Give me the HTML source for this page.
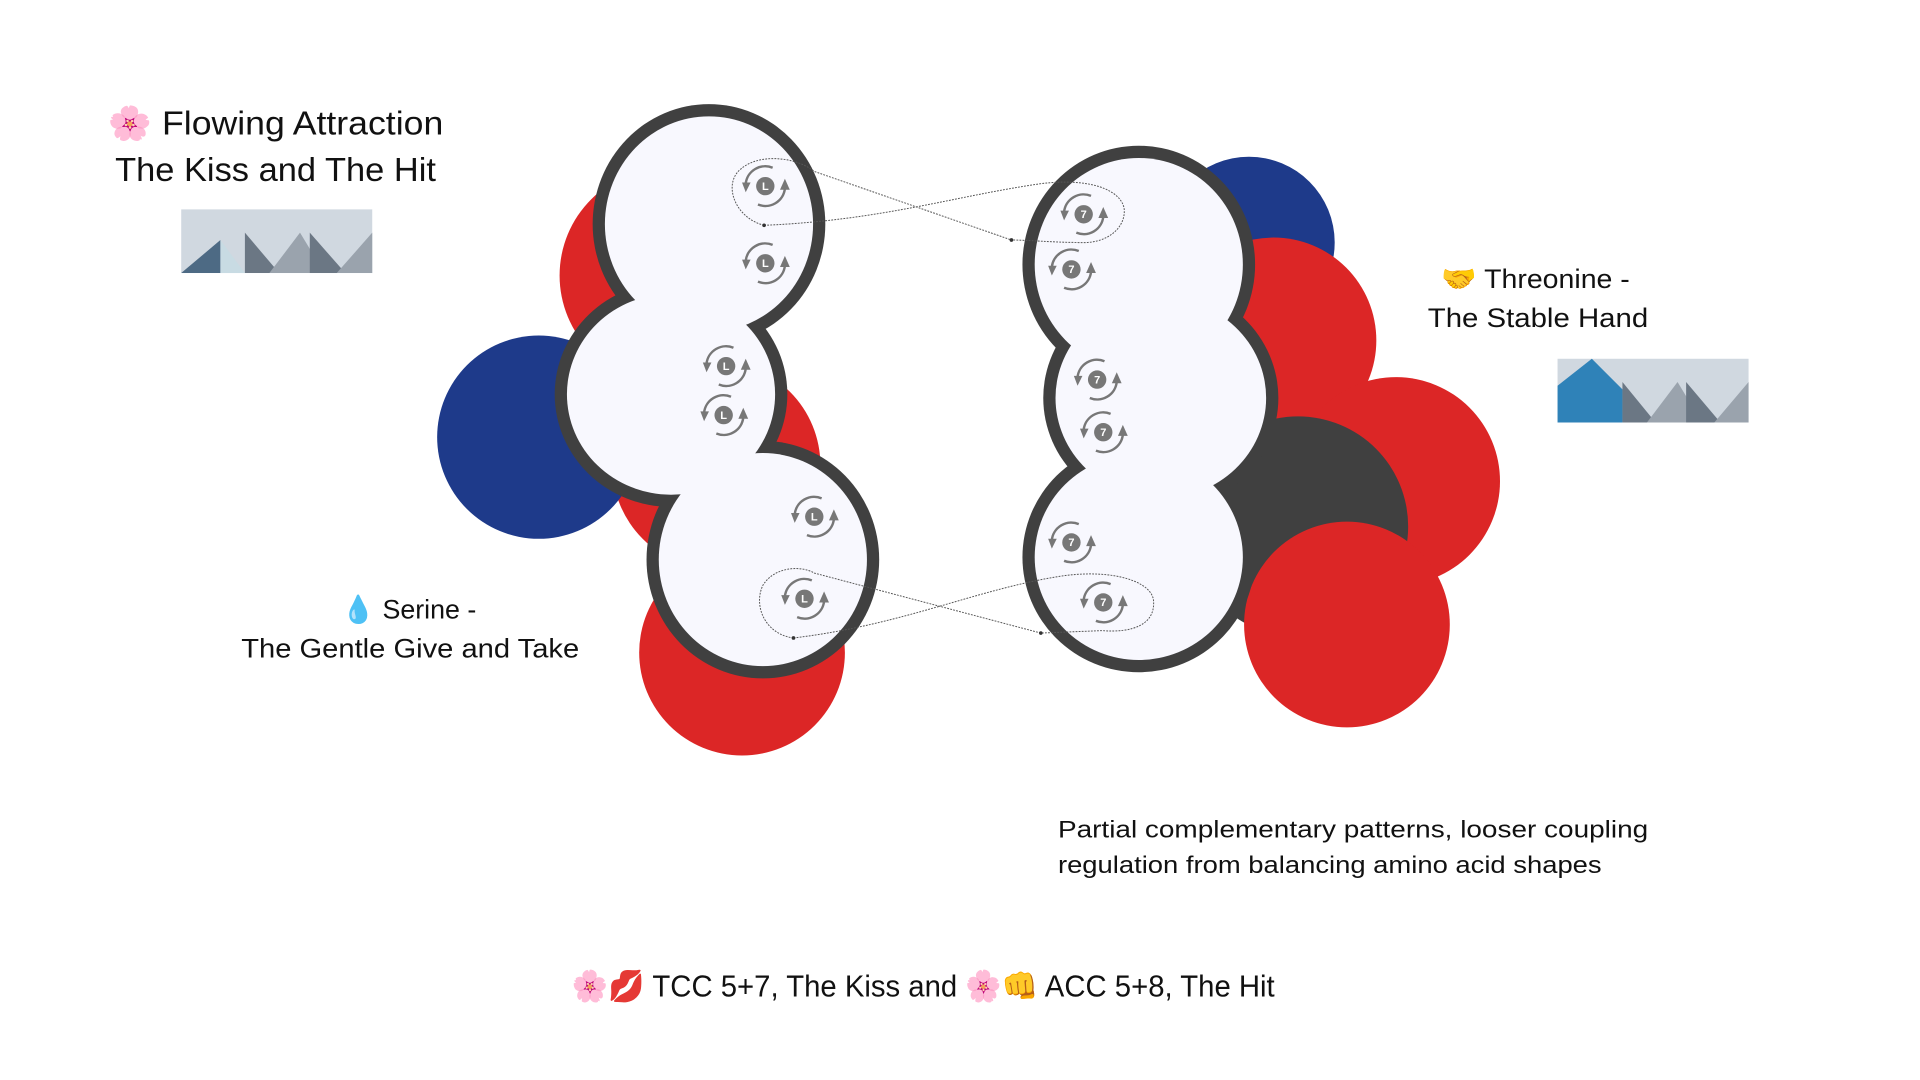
<!DOCTYPE html>
<html><head><meta charset="utf-8"><style>
html,body{margin:0;padding:0;background:#fff;width:1920px;height:1080px;overflow:hidden}
svg{display:block}
text{font-family:"Liberation Sans","DejaVu Sans",sans-serif;fill:#111}
</style></head><body>
<svg width="1920" height="1080" viewBox="0 0 1568 882" xmlns="http://www.w3.org/2000/svg">
<defs>
<g id="ic">
<path d="M-16,-2 A16,16 0 0 1 6,-15" fill="none" stroke="#777" stroke-width="2"/>
<path d="M-19,-3 L-16,5 L-12,-3z" fill="#777"/>
<path d="M16,2 A16,16 0 0 1 -6,15" fill="none" stroke="#777" stroke-width="2"/>
<path d="M12,3 L16,-6 L20,3z" fill="#777"/>
<circle r="7.5" fill="#777"/>
</g>
</defs>
<circle cx="545" cy="225" r="88" fill="#dc2626"/>
<circle cx="585" cy="380" r="85" fill="#dc2626"/>
<circle cx="440" cy="357" r="83" fill="#1e3a8a"/>
<circle cx="606" cy="533" r="84" fill="#dc2626"/>
<circle cx="1020" cy="198" r="70" fill="#1e3a8a"/>
<circle cx="1040" cy="278" r="84" fill="#dc2626"/>
<circle cx="1140" cy="393" r="85" fill="#dc2626"/>
<circle cx="1060" cy="430" r="90" fill="#404040"/>
<circle cx="1100" cy="510" r="84" fill="#dc2626"/>
<g fill="#404040">
<ellipse cx="579" cy="183" rx="95" ry="98"/>
<ellipse cx="548" cy="322" rx="95" ry="92"/>
<ellipse cx="623" cy="457" rx="95" ry="97"/>
<ellipse cx="930" cy="216" rx="95" ry="97"/>
<ellipse cx="948" cy="325" rx="96" ry="92"/>
<ellipse cx="930" cy="455" rx="95" ry="94"/>
</g>
<g fill="#f8f8fe">
<ellipse cx="579" cy="183" rx="85" ry="88"/>
<ellipse cx="548" cy="322" rx="85" ry="82"/>
<ellipse cx="623" cy="457" rx="85" ry="87"/>
<ellipse cx="930" cy="216" rx="85" ry="87"/>
<ellipse cx="948" cy="325" rx="86" ry="82"/>
<ellipse cx="930" cy="455" rx="85" ry="84"/>
</g>
<use href="#ic" x="625" y="152"/><use href="#ic" x="625" y="215"/>
<use href="#ic" x="593" y="299"/><use href="#ic" x="591" y="339"/>
<use href="#ic" x="665" y="422"/><use href="#ic" x="657" y="489"/>
<use href="#ic" x="885" y="175"/><use href="#ic" x="875" y="220"/>
<use href="#ic" x="896" y="310"/><use href="#ic" x="901" y="353"/>
<use href="#ic" x="875" y="443"/><use href="#ic" x="901" y="492"/>
<g font-size="9" font-weight="bold" text-anchor="middle">
<text x="625" y="155" style="fill:#fff">L</text><text x="625" y="218" style="fill:#fff">L</text>
<text x="593" y="302" style="fill:#fff">L</text><text x="591" y="342" style="fill:#fff">L</text>
<text x="665" y="425" style="fill:#fff">L</text><text x="657" y="492" style="fill:#fff">L</text>
<text x="885" y="178" style="fill:#fff">7</text><text x="875" y="223" style="fill:#fff">7</text>
<text x="896" y="313" style="fill:#fff">7</text><text x="901" y="356" style="fill:#fff">7</text>
<text x="875" y="446" style="fill:#fff">7</text><text x="901" y="495" style="fill:#fff">7</text>
</g>
<g fill="none" stroke="#555" stroke-width="0.8" stroke-dasharray="1.5,1">
<path d="M624,184 C600,178 590,150 605,138 C620,125 650,128 665,140 L826,196"/>
<path d="M624,184 C720,180 780,160 850,150 C890,145 915,155 918,170 C920,185 905,200 880,198 C860,198 840,196 826,196"/>
<path d="M648,521 C625,518 615,495 623,478 C633,462 655,462 665,468 L850,517"/>
<path d="M648,521 C740,510 800,480 870,470 C910,465 940,475 942,490 C944,510 925,517 900,515 L850,517"/>
</g>
<g fill="#333"><circle cx="624" cy="184" r="1.5"/><circle cx="826" cy="196" r="1.5"/><circle cx="648" cy="521" r="1.5"/><circle cx="850" cy="517" r="1.5"/></g>
<rect x="148" y="171" width="156" height="52" fill="#d0d8e0"/>
<path d="M148,223 L180,196 L180,223z" fill="#4d6a84"/><path d="M180,196 L200,223 L180,223z" fill="#c8dbe3"/>
<path d="M200,223 L200,190 L228,223z" fill="#6b7784"/><path d="M220,223 L245,190 L265,223z" fill="#9aa3ad"/>
<path d="M253,223 L253,190 L282,223z" fill="#6b7784"/><path d="M275,223 L304,190 L304,223z" fill="#9aa3ad"/>
<rect x="1272" y="293" width="156" height="52" fill="#d0d8e0"/>
<path d="M1272,345 L1272,315 L1300,293 L1325,318 L1325,345z" fill="#2f82b8"/>
<path d="M1325,345 L1325,312 L1352,345z" fill="#6b7784"/><path d="M1345,345 L1370,312 L1390,345z" fill="#9aa3ad"/>
<path d="M1377,345 L1377,312 L1405,345z" fill="#6b7784"/><path d="M1400,345 L1428,312 L1428,345z" fill="#9aa3ad"/>
<text x="88" y="110" font-size="27" textLength="274" lengthAdjust="spacingAndGlyphs">🌸 Flowing Attraction</text>
<text x="94" y="148" font-size="27" textLength="262" lengthAdjust="spacingAndGlyphs">The Kiss and The Hit</text>
<text x="1177" y="235" font-size="22" textLength="154" lengthAdjust="spacingAndGlyphs">🤝 Threonine -</text>
<text x="1166" y="267" font-size="22" textLength="180" lengthAdjust="spacingAndGlyphs">The Stable Hand</text>
<text x="279" y="505" font-size="22" textLength="110" lengthAdjust="spacingAndGlyphs">💧 Serine -</text>
<text x="197" y="537" font-size="22" textLength="276" lengthAdjust="spacingAndGlyphs">The Gentle Give and Take</text>
<text x="864" y="684" font-size="20" textLength="482" lengthAdjust="spacingAndGlyphs">Partial complementary patterns, looser coupling</text>
<text x="864" y="713" font-size="20" textLength="444" lengthAdjust="spacingAndGlyphs">regulation from balancing amino acid shapes</text>
<text x="467" y="814" font-size="25" textLength="574" lengthAdjust="spacingAndGlyphs">🌸💋 TCC 5+7, The Kiss and 🌸👊 ACC 5+8, The Hit</text>
</svg>
</body></html>
